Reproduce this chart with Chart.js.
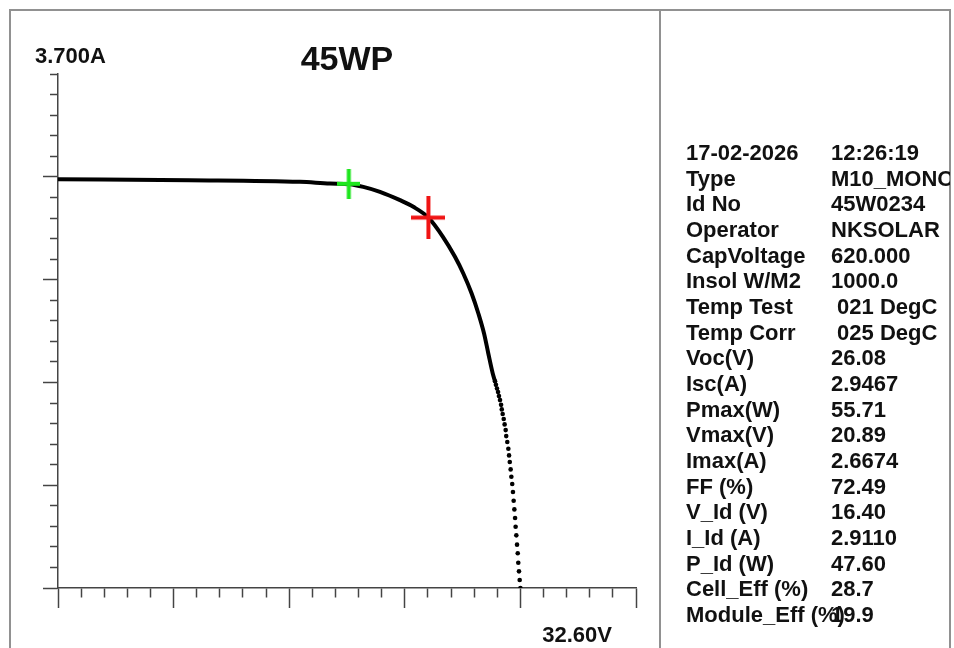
<!DOCTYPE html>
<html>
<head>
<meta charset="utf-8">
<title>45WP - Curva I-V</title>
<script src="https://cdn.jsdelivr.net/npm/chart.js@4.4.1/dist/chart.umd.min.js"></script>
<style>
    body { margin: 0; background: #fff; }
    #pagina { position: relative; width: 954px; height: 648px; overflow: hidden; font-family: "Liberation Sans", Arial, sans-serif; }
    #grafico { position: absolute; left: 0; top: 0; }
    .borde { position: absolute; background: #919191; }
    #panel { position: absolute; left: 661px; top: 140px; width: 289px; height: 505px; overflow: hidden;
             font-weight: bold; font-size: 22px; line-height: 25.67px; color: #111; }
    .fila { position: relative; height: 25.67px; white-space: pre; }
    .etq { position: absolute; left: 25px; }
    .val { position: absolute; left: 170px; }
</style>
</head>
<body>
<div id="pagina">
    <canvas id="grafico" width="660" height="648"></canvas>
    <div class="borde" style="left:9px; top:9px; width:942px; height:2px;"></div>
    <div class="borde" style="left:9px; top:9px; width:2px; height:639px;"></div>
    <div class="borde" style="left:659px; top:9px; width:2px; height:639px;"></div>
    <div class="borde" style="left:949px; top:9px; width:2px; height:639px;"></div>
    <div id="panel"></div>
</div>
<script>
// --- DATOS DE LA CURVA ---
// tramo continuo (voltios / amperios)
const voltios  = [0, 7.44, 13.65, 15.34, 16.43, 17.22, 18.16, 19.29, 20.04, 20.89, 21.71, 22.39, 22.86, 23.33, 23.71, 24.03, 24.27, 24.52, 24.65];
const amperios = [2.944, 2.937, 2.925, 2.913, 2.908, 2.889, 2.853, 2.793, 2.745, 2.667, 2.529, 2.385, 2.265, 2.121, 1.977, 1.833, 1.689, 1.545, 1.488];

// tramo final, puntos sueltos
const puntosV = [24.65, 24.70, 24.76, 24.82, 24.87, 24.93, 24.99, 25.03, 25.08, 25.14, 25.19, 25.25, 25.28, 25.34, 25.40, 25.44,
                 25.48, 25.53, 25.57, 25.62, 25.66, 25.70, 25.74, 25.78, 25.81, 25.85, 25.89, 25.93, 25.96, 26.00, 26.04, 26.08];
const puntosI = [1.488, 1.463, 1.437, 1.411, 1.382, 1.353, 1.319, 1.286, 1.253, 1.217, 1.178, 1.137, 1.094, 1.051, 1.003, 0.955,
                 0.907, 0.854, 0.801, 0.749, 0.691, 0.628, 0.566, 0.504, 0.441, 0.379, 0.312, 0.250, 0.182, 0.120, 0.058, 0];

// escalas del equipo
const vMax = 32.6;
const iMax = 3.7;

// puntos marcados
const puntoId  = { v: 16.40, i: 2.9110 };
const puntoMpp = { v: 20.89, i: 2.6674 };

// panel de resultados
const etiquetas = ['17-02-2026', 'Type', 'Id No', 'Operator', 'CapVoltage', 'Insol W/M2', 'Temp Test', 'Temp Corr',
                   'Voc(V)', 'Isc(A)', 'Pmax(W)', 'Vmax(V)', 'Imax(A)', 'FF (%)', 'V_Id (V)', 'I_Id (A)', 'P_Id (W)',
                   'Cell_Eff (%)', 'Module_Eff (%)'];
const valores = ['12:26:19', 'M10_MONO', '45W0234', 'NKSOLAR', '620.000', '1000.0', ' 021 DegC', ' 025 DegC',
                 '26.08', '2.9467', '55.71', '20.89', '2.6674', '72.49', '16.40', '2.9110', '47.60', '28.7', '19.9'];

document.addEventListener('DOMContentLoaded', () => {
    // --- PANEL DE TEXTO ---
    const panel = document.getElementById('panel');
    etiquetas.forEach((etq, i) => {
        panel.innerHTML += `<div class="fila"><span class="etq">${etq}</span><span class="val">${valores[i]}</span></div>`;
    });

    // cruz como imagen para pointStyle
    const crearCruz = (color, ancho, alto, grosor) => {
        const c = document.createElement('canvas');
        c.width = ancho;
        c.height = alto;
        const g = c.getContext('2d');
        g.fillStyle = color;
        g.fillRect((ancho - grosor) / 2, 0, grosor, alto);
        g.fillRect(0, (alto - grosor) / 2, ancho, grosor);
        return c;
    };

    const fuente = '"Liberation Sans", Arial, sans-serif';

    // textos de escala (3.700A arriba, 32.60V abajo)
    const textosEscala = {
        id: 'textosEscala',
        afterDraw(chart) {
            const { ctx, chartArea } = chart;
            ctx.save();
            ctx.font = 'bold 22px ' + fuente;
            ctx.fillStyle = '#111';
            ctx.textBaseline = 'alphabetic';
            ctx.textAlign = 'left';
            ctx.fillText(iMax.toFixed(3) + 'A', chartArea.left - 23, chartArea.top - 11);
            ctx.textAlign = 'right';
            ctx.fillText(vMax.toFixed(2) + 'V', chartArea.right - 24, chartArea.bottom + 54);
            ctx.restore();
        }
    };

    new Chart(document.getElementById('grafico'), {
        type: 'scatter',
        data: {
            datasets: [
                {
                    label: 'V_Id',
                    data: [{ x: puntoId.v, y: puntoId.i }],
                    pointStyle: crearCruz('#1de61d', 23, 30, 4),
                    pointRadius: 10
                },
                {
                    label: 'Pmax',
                    data: [{ x: puntoMpp.v, y: puntoMpp.i }],
                    pointStyle: crearCruz('#f01414', 34, 43, 4),
                    pointRadius: 10
                },
                {
                    label: 'Curva I-V',
                    data: voltios.map((v, i) => ({ x: v, y: amperios[i] })),
                    showLine: true,
                    borderColor: '#000',
                    borderWidth: 4,
                    borderCapStyle: 'round',
                    pointRadius: 0,
                    cubicInterpolationMode: 'monotone'
                },
                {
                    label: 'Puntos',
                    data: puntosV.map((v, i) => ({ x: v, y: puntosI[i] })),
                    showLine: false,
                    pointRadius: 2.3,
                    backgroundColor: '#000',
                    borderWidth: 0
                }
            ]
        },
        options: {
            responsive: false,
            animation: false,
            devicePixelRatio: 1,
            layout: { padding: { left: 43, right: 24, top: 47, bottom: 40 } },
            plugins: {
                legend: { display: false },
                tooltip: { enabled: false },
                title: {
                    display: true,
                    text: '45WP',
                    fullSize: false,
                    color: '#111',
                    padding: 0,
                    font: { family: fuente, size: 34, weight: 'bold', lineHeight: 0.8 }
                }
            },
            scales: {
                x: {
                    type: 'linear',
                    min: 0,
                    max: vMax,
                    ticks: { stepSize: vMax / 25, display: false },
                    grid: {
                        drawOnChartArea: false,
                        tickLength: 20,
                        tickColor: '#444',
                        tickWidth: 1.5,
                        tickBorderDash: (ctx) => (ctx.index % 5 === 0 ? [] : [9, 100])
                    },
                    border: { color: '#444', width: 1.5 }
                },
                y: {
                    type: 'linear',
                    min: 0,
                    max: iMax,
                    ticks: { stepSize: iMax / 25, display: false },
                    grid: {
                        drawOnChartArea: false,
                        tickLength: 15,
                        tickColor: '#444',
                        tickWidth: 1.5,
                        tickBorderDash: (ctx) => (ctx.index % 5 === 0 && ctx.index < 25 ? [] : [0, 7, 8, 100])
                    },
                    border: { color: '#444', width: 1.5 }
                }
            }
        },
        plugins: [textosEscala]
    });
});
</script>
</body>
</html>
